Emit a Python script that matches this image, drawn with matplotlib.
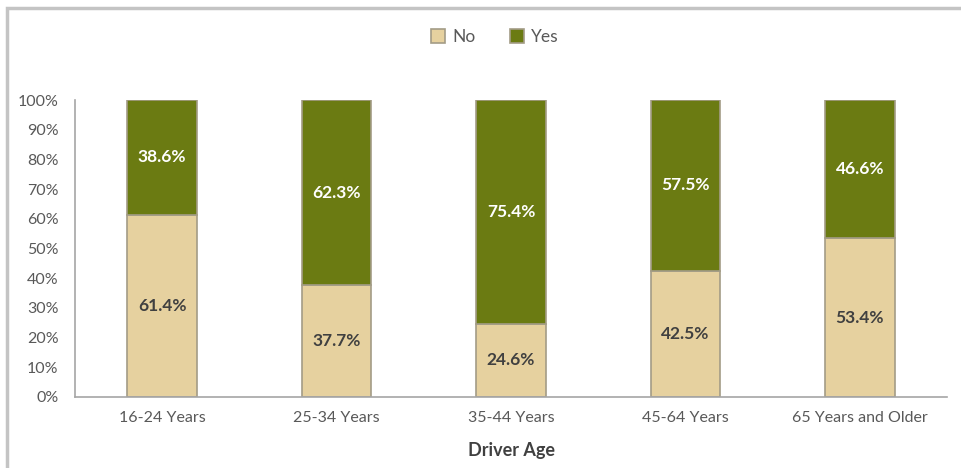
import matplotlib.pyplot as plt
from matplotlib.patches import Rectangle
import numpy as np

plt.rcParams['font.family'] = ['Lato', 'DejaVu Sans']

# share of drivers by age group
age_groups = ["16-24 Years", "25-34 Years", "35-44 Years", "45-64 Years", "65 Years and Older"]
no_pct = [61.4, 37.7, 24.6, 42.5, 53.4]
yes_pct = [38.6, 62.3, 75.4, 57.5, 46.6]

no_color = "#E6D19F"
yes_color = "#6B7B12"
edge_color = "#A39C86"
text_gray = "#595959"

fig = plt.figure(figsize=(9.62, 4.68), dpi=100)
# thin gray frame round the chart area
fig.patches.append(Rectangle((7 / 962, -0.05), 1.1, 1.05 - 8 / 468,
                             transform=fig.transFigure, fill=False,
                             edgecolor="#C4C4C4", linewidth=2.5))

ax = fig.add_axes([75 / 962, 71 / 468, 872 / 962, 297 / 468])
x = np.arange(len(age_groups))
w = 0.40

ax.bar(x, no_pct, w, color=no_color, edgecolor=edge_color, linewidth=1.2, label="No")
ax.bar(x, yes_pct, w, bottom=no_pct, color=yes_color, edgecolor=edge_color, linewidth=1.2, label="Yes")

for i in range(len(x)):
    ax.text(x[i], no_pct[i] / 2, f"{no_pct[i]:.1f}%", ha="center", va="center",
            fontsize=12.5, fontweight="bold", color="#404040")
    ax.text(x[i], no_pct[i] + yes_pct[i] / 2, f"{yes_pct[i]:.1f}%", ha="center", va="center",
            fontsize=12.5, fontweight="bold", color="white")

ax.set_xlim(-0.5, len(age_groups) - 0.5)
ax.set_ylim(0, 100)
ax.set_yticks(range(0, 101, 10))
ax.set_yticklabels([f"{v}%" for v in range(0, 101, 10)])
ax.set_xticks(x)
ax.set_xticklabels(age_groups)
ax.tick_params(axis="both", length=0, labelsize=11.5, labelcolor=text_gray)
ax.tick_params(axis="x", pad=10)
ax.tick_params(axis="y", pad=12)

for s in ["top", "right"]:
    ax.spines[s].set_visible(False)
ax.spines["left"].set_color("#A6A6A6")
ax.spines["bottom"].set_color("#A6A6A6")
ax.spines["left"].set_linewidth(1.2)
ax.spines["bottom"].set_linewidth(1.2)

ax.set_xlabel("Driver Age", fontsize=13, fontweight="bold", color="#404040", labelpad=12)

fig.legend(loc="center", bbox_to_anchor=(495 / 962, 1 - 37 / 468), ncol=2, frameon=False,
           fontsize=12.5, handlelength=0.8, handleheight=0.8, columnspacing=2.0,
           handletextpad=0.4, labelcolor=text_gray)

fig.savefig("out.png", dpi=100)
